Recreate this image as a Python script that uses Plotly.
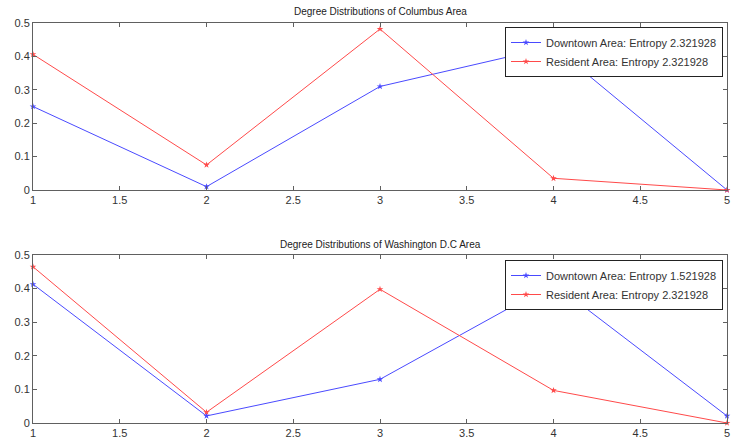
import plotly.graph_objects as go

x_vals = [1, 2, 3, 4, 5]
col_downtown = [0.25, 0.01, 0.31, 0.43, 0.0]
col_resident = [0.406, 0.075, 0.482, 0.035, 0.0]
dc_downtown = [0.413, 0.021, 0.13, 0.415, 0.021]
dc_resident = [0.465, 0.032, 0.398, 0.097, 0.0]

titles = ["Degree Distributions of Columbus Area", "Degree Distributions of Washington D.C Area"]
names_col = ["Downtown Area: Entropy 2.321928", "Resident Area: Entropy 2.321928"]
names_dc = ["Downtown Area: Entropy 1.521928", "Resident Area: Entropy 2.321928"]
x_ticks = [1, 1.5, 2, 2.5, 3, 3.5, 4, 4.5, 5]
x_ticktext = ["1", "1.5", "2", "2.5", "3", "3.5", "4", "4.5", "5"]
y_ticks = [0, 0.1, 0.2, 0.3, 0.4, 0.5]
y_ticktext = ["0", "0.1", "0.2", "0.3", "0.4", "0.5"]

BLUE = "#4a4aff"
RED = "#ff4a4a"
FONT = "Liberation Sans, Arial, sans-serif"

fig = go.Figure()

def add(xs, ys, name, color, xa, ya, leg):
    fig.add_trace(go.Scatter(
        x=xs, y=ys, name=name, mode="lines+markers",
        line=dict(color=color, width=1),
        marker=dict(symbol="star", size=5, color=color),
        xaxis=xa, yaxis=ya, legend=leg, showlegend=True, cliponaxis=False))

add(x_vals, col_downtown, names_col[0], BLUE, "x", "y", "legend")
add(x_vals, col_resident, names_col[1], RED, "x", "y", "legend")
add(x_vals, dc_downtown, names_dc[0], BLUE, "x2", "y2", "legend2")
add(x_vals, dc_resident, names_dc[1], RED, "x2", "y2", "legend2")

W, H = 736, 438
xd = [33 / W, 727 / W]
yd1 = [1 - 190 / H, 1 - 23 / H]
yd2 = [1 - 423 / H, 1 - 255 / H]

axis_common = dict(
    showline=True, linecolor="#606060", linewidth=1, mirror="ticks",
    ticks="inside", ticklen=4, tickcolor="#606060", showgrid=False,
    zeroline=False, automargin=False,
    tickfont=dict(family=FONT, size=11, color="#333333"),
)

fig.update_layout(
    template="none",
    width=W, height=H,
    margin=dict(l=0, r=0, t=0, b=0, pad=0),
    paper_bgcolor="white", plot_bgcolor="white",
    font=dict(family=FONT, size=11, color="#333333"),
    xaxis=dict(domain=xd, range=[1, 5], tickvals=x_ticks, ticktext=x_ticktext, anchor="y", **axis_common),
    yaxis=dict(domain=yd1, range=[0, 0.5], tickvals=y_ticks, ticktext=y_ticktext, anchor="x", **axis_common),
    xaxis2=dict(domain=xd, range=[1, 5], tickvals=x_ticks, ticktext=x_ticktext, anchor="y2", **axis_common),
    yaxis2=dict(domain=yd2, range=[0, 0.5], tickvals=y_ticks, ticktext=y_ticktext, anchor="x2", **axis_common),
    legend=dict(x=723 / W, y=1 - 27 / H, xanchor="right", yanchor="top",
                bgcolor="white", bordercolor="#222222", borderwidth=1,
                font=dict(family=FONT, size=11, color="#333333"),
                tracegroupgap=0, itemwidth=30),
    legend2=dict(x=723 / W, y=1 - 260 / H, xanchor="right", yanchor="top",
                 bgcolor="white", bordercolor="#222222", borderwidth=1,
                 font=dict(family=FONT, size=11, color="#333333"),
                 tracegroupgap=0, itemwidth=30),
    annotations=[
        dict(text=titles[0], x=380 / W, y=1 - 11 / H, xref="paper", yref="paper",
             xanchor="center", yanchor="middle",
             showarrow=False, font=dict(family=FONT, size=10, color="#222222")),
        dict(text=titles[1], x=380 / W, y=1 - 244 / H, xref="paper", yref="paper",
             xanchor="center", yanchor="middle",
             showarrow=False, font=dict(family=FONT, size=10, color="#222222")),
    ],
)

fig.write_html("out.html", config={"displayModeBar": False},
               post_script="document.body.style.margin='0';document.body.style.overflow='hidden';")
